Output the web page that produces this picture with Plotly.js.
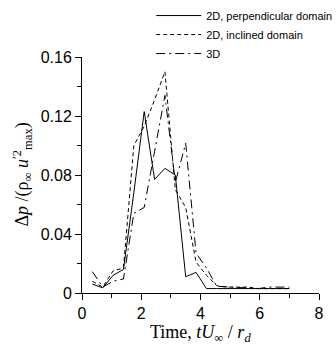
<!DOCTYPE html>
<html>
<head>
<meta charset="utf-8">
<script src="https://cdn.plot.ly/plotly-3.0.1.min.js"></script>
<style>html,body{margin:0;padding:0;background:#fff;}#chart{width:336px;height:350px;}</style>
</head>
<body>
<div id="chart"></div>
<script>
const time = [0.35,0.7,1.05,1.4,1.75,2.1,2.45,2.8,3.15,3.5,3.85,4.2,4.55,4.9,5.25,5.6,5.95,6.3,6.65,7.0];
const perpendicular = [0.006,0.0035,0.012,0.016,0.068,0.123,0.077,0.0845,0.080,0.011,0.014,0.003,0.003,0.003,0.003,0.003,0.003,0.003,0.003,0.003];
const inclined = [0.008,0.004,0.015,0.017,0.100,0.113,0.131,0.150,0.070,0.058,0.021,0.012,0.005,0.004,0.004,0.004,0.003,0.003,0.003,0.003];
const threeD = [0.0145,0.004,0.008,0.0095,0.054,0.058,0.096,0.134,0.075,0.1015,0.027,0.017,0.0045,0.004,0.004,0.0035,0.003,0.004,0.004,0.004];
const seriesNames = ['2D, perpendicular domain','2D, inclined domain','3D'];
const xTicks = [0,2,4,6,8];
const yTicks = [0,0.04,0.08,0.12,0.16];
const yTickLabels = ['0','0.04','0.08','0.12','0.16'];
const xTitle = 'Time, <i>tU</i><sub>∞</sub> / <i>r<sub>d</sub></i>';
const yTitle = 'Δ<i>p</i> /(ρ<sub>∞</sub> <i>u</i><sup>′2</sup><sub>max</sub>)';

const traces = [
  {x: time, y: perpendicular, name: seriesNames[0], mode: 'lines', line: {color: '#000', width: 1, dash: 'solid'}},
  {x: time, y: inclined, name: seriesNames[1], mode: 'lines', line: {color: '#000', width: 1, dash: '4px,3px'}},
  {x: time, y: threeD, name: seriesNames[2], mode: 'lines', line: {color: '#000', width: 1, dash: '9px,4px,2px,4px'}}
];

const serif = 'Liberation Serif, Times New Roman, serif';
const layout = {
  width: 336, height: 350,
  margin: {l: 82, r: 17, t: 57, b: 57, autoexpand: false},
  paper_bgcolor: '#fff', plot_bgcolor: '#fff',
  font: {family: 'Liberation Sans, Arial, sans-serif', size: 14, color: '#000'},
  showlegend: true,
  legend: {xref: 'container', yref: 'container', x: 0.45, y: 0.997, xanchor: 'left', yanchor: 'top', bgcolor: 'rgba(0,0,0,0)',
           font: {size: 11, family: 'Liberation Sans, Arial, sans-serif'}, tracegroupgap: 0, itemwidth: 45},
  xaxis: {
    automargin: false,
    range: [0, 8], tickvals: xTicks, ticktext: xTicks.map(String),
    showgrid: false, zeroline: false, showline: true, linecolor: '#000', linewidth: 1,
    ticks: 'outside', ticklen: 6, tickwidth: 1, tickcolor: '#000',
    minor: {dtick: 1, ticks: 'outside', ticklen: 4, tickwidth: 1, tickcolor: '#000', showgrid: false},
    tickfont: {size: 16}
  },
  yaxis: {
    automargin: false,
    range: [0, 0.16], tickvals: yTicks, ticktext: yTickLabels,
    showgrid: false, zeroline: false, showline: true, linecolor: '#000', linewidth: 1,
    ticks: 'outside', ticklen: 6, tickwidth: 1, tickcolor: '#000',
    minor: {dtick: 0.02, ticks: 'outside', ticklen: 4, tickwidth: 1, tickcolor: '#000', showgrid: false},
    tickfont: {size: 16}
  },
  annotations: [
    {text: xTitle, xref: 'paper', yref: 'paper', x: 0.5, y: -0.17, xanchor: 'center', yanchor: 'middle',
     showarrow: false, font: {family: serif, size: 18}},
    {text: yTitle, xref: 'paper', yref: 'paper', x: -0.255, y: 0.5, xanchor: 'center', yanchor: 'middle',
     textangle: -90, showarrow: false, font: {family: serif, size: 18}}
  ]
};

Plotly.newPlot('chart', traces, layout, {displayModeBar: false, staticPlot: true});
</script>
</body>
</html>
